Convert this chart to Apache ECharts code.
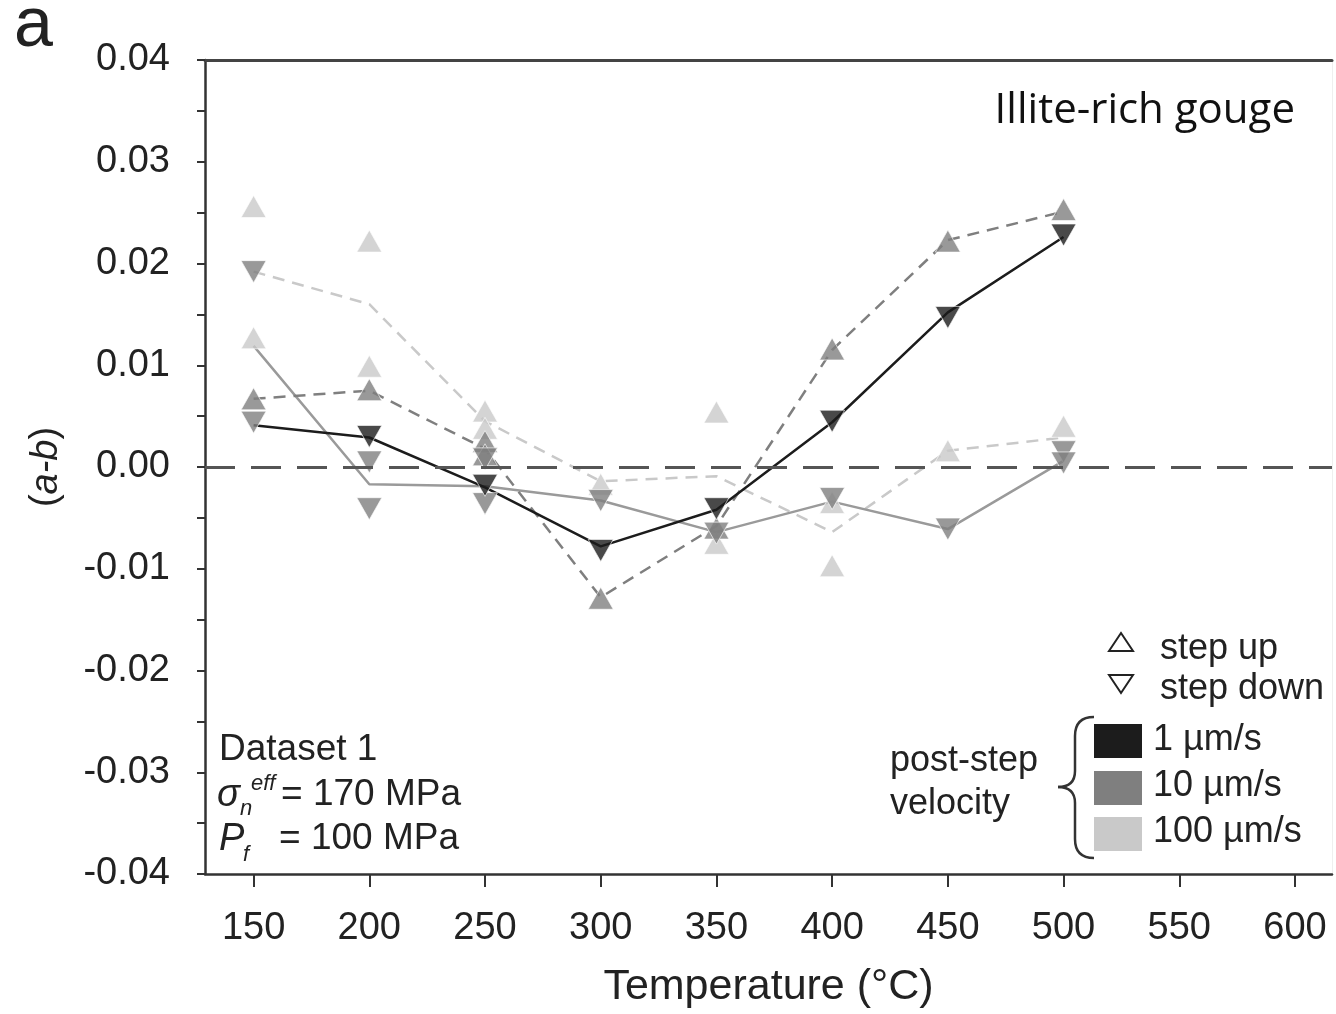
<!DOCTYPE html>
<html>
<head>
<meta charset="utf-8">
<title>Illite-rich gouge (a-b)</title>
<script src="https://cdn.jsdelivr.net/npm/echarts@6/dist/echarts.min.js"></script>
<style>
  html, body { margin: 0; padding: 0; background: #fff; }
  #chart { width: 1336px; height: 1014px; }
</style>
</head>
<body>
<div id="chart"></div>
<script>
// temperatures and x tick labels
const temps = [150, 200, 250, 300, 350, 400, 450, 500];
const xTicks = [150, 200, 250, 300, 350, 400, 450, 500, 550, 600];

// mean lines (one value per temperature)
const line1Down = [0.0041, 0.0029, -0.0020, -0.0078, -0.0042, 0.0044, 0.0152, 0.0226];
const line10Up = [0.0067, 0.0075, 0.0018, -0.0128, -0.0058, 0.0115, 0.0223, 0.0251];
const line10Down = [0.0119, -0.0017, -0.0019, -0.0033, -0.0064, -0.0034, -0.0061, 0.0006];
const line100Up = [0.0192, 0.0160, 0.0045, -0.0014, -0.0009, -0.0064, 0.0016, 0.0029];

// individual measurements, one list per temperature
const pts1Down = [[], [0.0030], [-0.0018], [-0.0082], [-0.0041], [0.0045], [0.0147], [0.0228]];
const pts10Up = [[0.0067], [0.0076], [0.0025, 0.0012], [-0.0129], [-0.0060], [0.0116], [0.0222], [0.0253]];
const pts10Down = [[0.0192, 0.0044], [0.0005, -0.0041], [0.0008, -0.0036], [-0.0033], [-0.0065], [-0.0031], [-0.0061], [0.0015, 0.0004]];
const pts100Up = [[0.0256, 0.0127], [0.0222, 0.0099], [0.0055, 0.0038], [-0.0017], [0.0054, -0.0075], [-0.0035, -0.0097], [0.0016], [0.0040]];

const BLACK = '#1c1c1c', DARK = '#7f7f7f', MID = '#9a9a9a', LIGHT = '#c9c9c9';
const FONT = 'Liberation Sans';

function pairs(vals) {
  return temps.map((t, i) => [t, vals[i]]);
}
function points(groups) {
  const out = [];
  groups.forEach((g, i) => g.forEach(v => out.push([temps[i], v])));
  return out;
}

const lineBase = { type: 'line', symbol: 'none', z: 2, silent: true };
const dotBase = {
  type: 'scatter', symbol: 'triangle', symbolSize: [25, 22], z: 3,
  itemStyle: { borderColor: '#fff', borderWidth: 0.8 }
};
const braceStyle = { stroke: '#333', lineWidth: 2.5, fill: 'none' };

const chart = echarts.init(document.getElementById('chart'));
chart.setOption({
  animation: false,
  grid: { left: 205, right: 4, top: 60, bottom: 138 },
  xAxis: [{
    type: 'value', min: 129, max: 616,
    axisLine: { onZero: false, lineStyle: { color: '#333', width: 2.5 } },
    axisTick: { show: true, length: 13, customValues: xTicks, lineStyle: { color: '#333', width: 2 } },
    axisLabel: { customValues: xTicks, margin: 36, fontSize: 38, color: '#222', fontFamily: FONT },
    splitLine: { show: false },
    name: 'Temperature (°C)', nameLocation: 'middle', nameGap: 92,
    nameTextStyle: { fontSize: 43, color: '#222', fontFamily: FONT }
  }, {
    type: 'value', min: 129, max: 616, position: 'top',
    axisLine: { show: true, onZero: false, lineStyle: { color: '#444', width: 3 } },
    axisTick: { show: false }, axisLabel: { show: false }, splitLine: { show: false }
  }],
  yAxis: [{
    type: 'value', min: -0.04, max: 0.04, interval: 0.005,
    axisLine: { show: true, onZero: false, lineStyle: { color: '#333', width: 2.5 } },
    axisTick: { show: true, length: 8, lineStyle: { color: '#333', width: 2 } },
    axisLabel: {
      margin: 35, fontSize: 38, color: '#222', fontFamily: FONT,
      formatter: v => (Math.round(v * 200) % 2 === 0 ? v.toFixed(2).replace('-0.00', '0.00') : '')
    },
    splitLine: { show: false },
    name: '{p|(}{i|a-b}{p|)}', nameLocation: 'middle', nameGap: 140,
    nameTextStyle: {
      rich: {
        p: { fontSize: 38, color: '#222', fontFamily: FONT },
        i: { fontSize: 38, color: '#222', fontFamily: FONT, fontStyle: 'italic' }
      }
    }
  }, {
    type: 'value', min: -0.04, max: 0.04, position: 'right',
    axisLine: { show: true, onZero: false, lineStyle: { color: '#efefef', width: 1 } },
    axisTick: { show: false }, axisLabel: { show: false }, splitLine: { show: false }
  }],
  series: [
    Object.assign({}, lineBase, {
      data: pairs(line100Up),
      lineStyle: { color: LIGHT, width: 2.5, type: [12, 8] },
      markLine: {
        silent: true, symbol: 'none', label: { show: false },
        lineStyle: { color: '#555', width: 3, type: [30, 16] },
        data: [{ yAxis: 0 }]
      }
    }),
    Object.assign({}, lineBase, { data: pairs(line10Down), lineStyle: { color: MID, width: 2.5 } }),
    Object.assign({}, lineBase, { data: pairs(line10Up), lineStyle: { color: DARK, width: 2.5, type: [12, 8] } }),
    Object.assign({}, lineBase, { data: pairs(line1Down), lineStyle: { color: BLACK, width: 2.5 } }),
    Object.assign({}, dotBase, { data: points(pts100Up), itemStyle: Object.assign({}, dotBase.itemStyle, { color: LIGHT }) }),
    Object.assign({}, dotBase, { data: points(pts10Up), itemStyle: Object.assign({}, dotBase.itemStyle, { color: DARK }) }),
    Object.assign({}, dotBase, { data: points(pts10Down), symbolRotate: 180, itemStyle: Object.assign({}, dotBase.itemStyle, { color: DARK }) }),
    Object.assign({}, dotBase, { data: points(pts1Down), symbolRotate: 180, itemStyle: Object.assign({}, dotBase.itemStyle, { color: BLACK }) })
  ],
  graphic: [
    // panel letter and title
    { type: 'text', left: 14, top: -8, style: { text: 'a', font: '70px ' + FONT, fill: '#222' } },
    { type: 'text', right: 41, top: 90, style: { text: 'Illite-rich gouge', font: '42px "Open Sans"', fill: '#111' } },
    // test conditions
    { type: 'text', left: 219, top: 731, style: { text: 'Dataset 1', font: '37px ' + FONT, fill: '#222' } },
    { type: 'text', left: 217, top: 776, style: { text: 'σ', font: 'italic 38px ' + FONT, fill: '#222' } },
    { type: 'text', left: 240, top: 798, style: { text: 'n', font: 'italic 22px ' + FONT, fill: '#222' } },
    { type: 'text', left: 251, top: 773, style: { text: 'eff', font: 'italic 22px ' + FONT, fill: '#222' } },
    { type: 'text', left: 281, top: 776, style: { text: '= 170 MPa', font: '37px ' + FONT, fill: '#222' } },
    { type: 'text', left: 219, top: 820, style: { text: 'P', font: 'italic 38px ' + FONT, fill: '#222' } },
    { type: 'text', left: 243, top: 844, style: { text: 'f', font: 'italic 22px ' + FONT, fill: '#222' } },
    { type: 'text', left: 279, top: 820, style: { text: '= 100 MPa', font: '37px ' + FONT, fill: '#222' } },
    // legend: step direction
    { type: 'polygon', shape: { points: [[1109, 651], [1121, 633], [1133, 651]] }, style: { fill: 'none', stroke: '#222', lineWidth: 2 } },
    { type: 'text', left: 1160, top: 631, style: { text: 'step up', font: '36px ' + FONT, fill: '#222' } },
    { type: 'polygon', shape: { points: [[1109, 675], [1121, 693], [1133, 675]] }, style: { fill: 'none', stroke: '#222', lineWidth: 2 } },
    { type: 'text', left: 1160, top: 671, style: { text: 'step down', font: '36px ' + FONT, fill: '#222' } },
    // legend: post-step velocity
    { type: 'text', left: 890, top: 743, style: { text: 'post-step', font: '36px ' + FONT, fill: '#222' } },
    { type: 'text', left: 890, top: 786, style: { text: 'velocity', font: '36px ' + FONT, fill: '#222' } },
    { type: 'bezierCurve', shape: { x1: 1094, y1: 717, cpx1: 1075, cpy1: 717, x2: 1075, y2: 736 }, style: braceStyle },
    { type: 'line', shape: { x1: 1075, y1: 736, x2: 1075, y2: 771 }, style: braceStyle },
    { type: 'bezierCurve', shape: { x1: 1075, y1: 771, cpx1: 1075, cpy1: 787, x2: 1058, y2: 787 }, style: braceStyle },
    { type: 'bezierCurve', shape: { x1: 1058, y1: 787, cpx1: 1075, cpy1: 787, x2: 1075, y2: 803 }, style: braceStyle },
    { type: 'line', shape: { x1: 1075, y1: 803, x2: 1075, y2: 839 }, style: braceStyle },
    { type: 'bezierCurve', shape: { x1: 1075, y1: 839, cpx1: 1075, cpy1: 858, x2: 1094, y2: 858 }, style: braceStyle },
    { type: 'rect', shape: { x: 1094, y: 724, width: 48, height: 34 }, style: { fill: BLACK } },
    { type: 'rect', shape: { x: 1094, y: 771, width: 48, height: 34 }, style: { fill: DARK } },
    { type: 'rect', shape: { x: 1094, y: 817, width: 48, height: 34 }, style: { fill: LIGHT } },
    { type: 'text', left: 1153, top: 722, style: { text: '1 µm/s', font: '36px ' + FONT, fill: '#222' } },
    { type: 'text', left: 1153, top: 768, style: { text: '10 µm/s', font: '36px ' + FONT, fill: '#222' } },
    { type: 'text', left: 1153, top: 814, style: { text: '100 µm/s', font: '36px ' + FONT, fill: '#222' } }
  ]
});
</script>
</body>
</html>
